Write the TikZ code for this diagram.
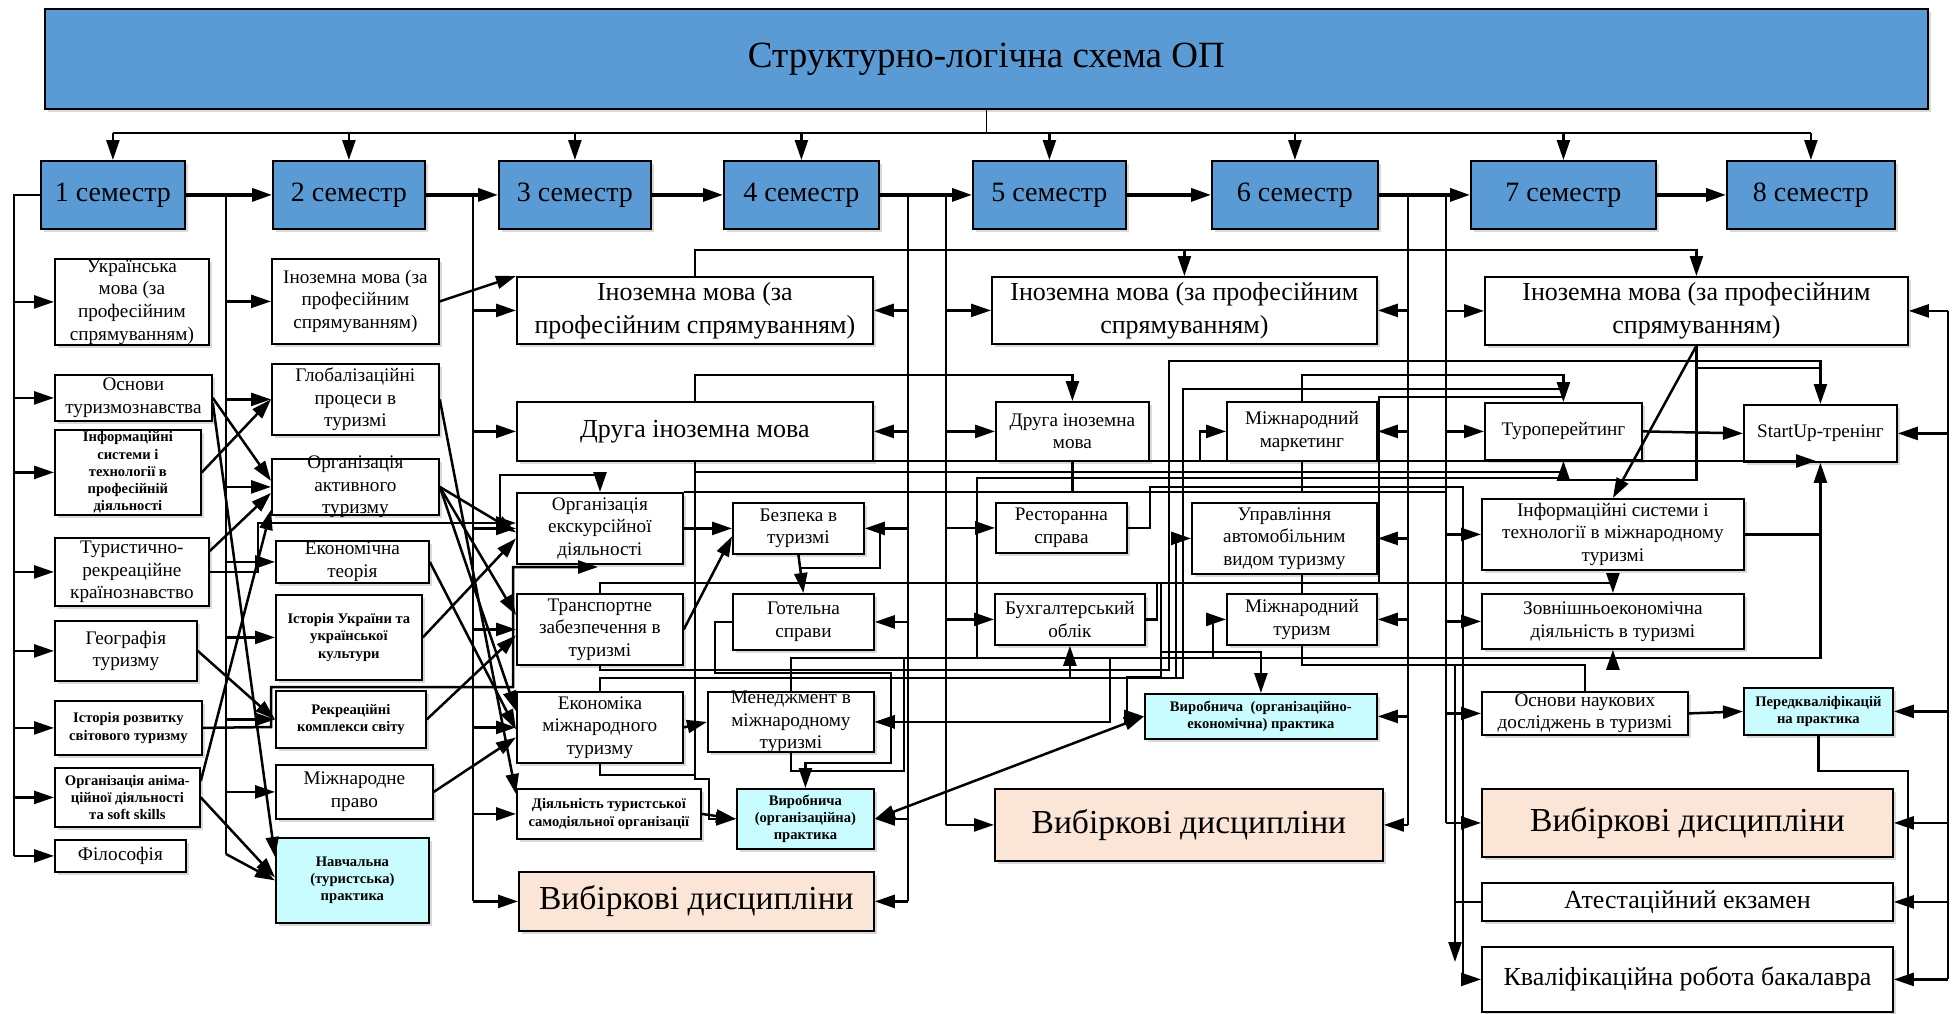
\documentclass[tikz,border=0pt]{standalone}
\usepackage{fontspec}
\setmainfont{Liberation Serif}
\usetikzlibrary{arrows.meta,shadows,calc}
\definecolor{semblue}{RGB}{91,155,213}
\definecolor{pracc}{RGB}{200,252,255}
\definecolor{peach}{RGB}{251,229,214}
\tikzset{
 box/.style={draw, line width=0.9pt, fill=white, inner sep=0pt,
   drop shadow={shadow xshift=1.4pt, shadow yshift=-1.4pt, opacity=0.25, fill=black!60}},
 sem/.style={fill=semblue},
 prac/.style={fill=pracc},
 elec/.style={fill=peach},
 plain/.style={},
 ttitle/.style={font=\fontsize{18.5}{22}\selectfont},
 tsem/.style={font=\fontsize{14}{16}\selectfont},
 tmed/.style={font=\fontsize{9.6}{11.3}\selectfont},
 tbig/.style={font=\fontsize{13}{16.5}\selectfont},
 tsml/.style={font=\fontsize{7.3}{8.6}\selectfont\bfseries},
 tvyb/.style={font=\fontsize{16.8}{20}\selectfont},
 ln/.style={line width=1.25pt},
 arr/.style={ln,-{Triangle[length=10pt,width=6.5pt]}},
 darr/.style={ln,{Triangle[length=10pt,width=6.5pt]}-{Triangle[length=10pt,width=6.5pt]}},
}
\newcommand\mybox[8]{%
 \node[box,#6,minimum width={(#4-#2)*0.5pt},minimum height={(#5-#3)*0.5pt},anchor=north west] (#1) at (#2,#3) {};
 \node[#7,align=center,inner sep=0pt] at (#1.center) {#8};}
\begin{document}
\begin{tikzpicture}[x=0.5pt,y=-0.5pt]
\useasboundingbox (0,0) rectangle (1954,1013);
% header and semesters
\mybox{title}{44}{8}{1927}{108}{sem}{ttitle}{Структурно-логічна схема ОП}
\mybox{s1}{40}{160}{184}{228}{sem}{tsem}{1 семестр}
\mybox{s2}{272}{160}{424}{228}{sem}{tsem}{2 семестр}
\mybox{s3}{498}{160}{650}{228}{sem}{tsem}{3 семестр}
\mybox{s4}{723}{160}{878}{228}{sem}{tsem}{4 семестр}
\mybox{s5}{972}{160}{1125}{228}{sem}{tsem}{5 семестр}
\mybox{s6}{1211}{160}{1377}{228}{sem}{tsem}{6 семестр}
\mybox{s7}{1470}{160}{1655}{228}{sem}{tsem}{7 семестр}
\mybox{s8}{1726}{160}{1894}{228}{sem}{tsem}{8 семестр}
% semester 1
\mybox{ukr}{54}{258}{208}{344}{plain}{tmed}{Українська\\мова (за\\професійним\\спрямуванням)}
\mybox{osn}{54}{374}{211}{420}{plain}{tmed}{Основи\\туризмознавства}
\mybox{inf1}{54}{429}{200}{514}{plain}{tsml}{Інформаційні\\системи і\\технології в\\професійній\\діяльності}
\mybox{tur}{54}{537}{208}{605}{plain}{tmed}{Туристично-\\рекреаційне\\країнознавство}
\mybox{geo}{54}{620}{196}{680}{plain}{tmed}{Географія\\туризму}
\mybox{ist}{54}{700}{201}{754}{plain}{tsml}{Історія розвитку\\світового туризму}
\mybox{anim}{54}{767}{199}{826}{plain}{tsml}{Організація аніма-\\ційної діяльності\\та soft skills}
\mybox{fil}{54}{839}{185}{871}{plain}{tmed}{Філософія}
% semester 2
\mybox{ino2}{271}{258}{438}{343}{plain}{tmed}{Іноземна мова (за\\професійним\\спрямуванням)}
\mybox{glob}{271}{363}{438}{434}{plain}{tmed}{Глобалізаційні\\процеси в\\туризмі}
\mybox{akt}{271}{458}{438}{514}{plain}{tmed}{Організація\\активного\\туризму}
\mybox{eco}{275}{540}{428}{582}{plain}{tmed}{Економічна\\теорія}
\mybox{istu}{275}{594}{421}{679}{plain}{tsml}{Історія України та\\української\\культури}
\mybox{rek}{275}{690}{425}{747}{plain}{tsml}{Рекреаційні\\комплекси світу}
\mybox{pravo}{275}{764}{432}{818}{plain}{tmed}{Міжнародне\\право}
\mybox{nav}{275}{837}{428}{922}{prac}{tsml}{Навчальна\\(туристська)\\практика}
% semester 3-4
\mybox{ino3}{516}{276}{872}{343}{plain}{tbig}{Іноземна мова (за\\професійним спрямуванням)}
\mybox{dr3}{516}{401}{872}{460}{plain}{tbig}{Друга іноземна мова}
\mybox{exc}{516}{492}{682}{563}{plain}{tmed}{Організація\\екскурсійної\\діяльності}
\mybox{bez}{732}{502}{863}{553}{plain}{tmed}{Безпека в\\туризмі}
\mybox{tra}{516}{593}{682}{664}{plain}{tmed}{Транспортне\\забезпечення в\\туризмі}
\mybox{got}{732}{593}{873}{649}{plain}{tmed}{Готельна\\справи}
\mybox{ekm}{516}{691}{682}{762}{plain}{tmed}{Економіка\\міжнародного\\туризму}
\mybox{men}{707}{691}{873}{751}{plain}{tmed}{Менеджмент в\\міжнародному\\туризмі}
\mybox{diy}{516}{788}{700}{838}{plain}{tsml}{Діяльність туристської\\самодіяльної організації}
\mybox{vyr3}{736}{788}{873}{848}{prac}{tsml}{Виробнича\\(організаційна)\\практика}
\mybox{vyb3}{518}{871}{873}{930}{elec}{tvyb}{Вибіркові дисципліни}
% semester 5-6
\mybox{ino5}{991}{276}{1376}{343}{plain}{tbig}{Іноземна мова (за професійним\\спрямуванням)}
\mybox{dr5}{995}{401}{1148}{460}{plain}{tmed}{Друга іноземна\\мова}
\mybox{mm}{1226}{401}{1376}{460}{plain}{tmed}{Міжнародний\\маркетинг}
\mybox{rest}{995}{502}{1126}{552}{plain}{tmed}{Ресторанна\\справа}
\mybox{upr}{1191}{502}{1376}{573}{plain}{tmed}{Управління\\автомобільним\\видом туризму}
\mybox{buh}{994}{593}{1144}{644}{plain}{tmed}{Бухгалтерський\\облік}
\mybox{mt}{1226}{593}{1376}{644}{plain}{tmed}{Міжнародний\\туризм}
\mybox{vyr5}{1144}{693}{1376}{738}{prac}{tsml}{Виробнича~~(організаційно-\\економічна) практика}
\mybox{vyb5}{994}{788}{1382}{860}{elec}{tvyb}{Вибіркові дисципліни}
% semester 7-8
\mybox{ino7}{1484}{276}{1907}{344}{plain}{tbig}{Іноземна мова (за професійним\\спрямуванням)}
\mybox{tour}{1484}{402}{1641}{459}{plain}{tmed}{Туроперейтинг}
\mybox{start}{1743}{404}{1896}{461}{plain}{tmed}{StartUp-тренінг}
\mybox{inf7}{1481}{498}{1743}{569}{plain}{tmed}{Інформаційні системи і\\технології в міжнародному\\туризмі}
\mybox{zov}{1481}{593}{1743}{648}{plain}{tmed}{Зовнішньоекономічна\\діяльність в туризмі}
\mybox{nauk}{1481}{691}{1687}{734}{plain}{tmed}{Основи наукових\\досліджень в туризмі}
\mybox{pered}{1743}{687}{1892}{734}{prac}{tsml}{Передкваліфікацій\\на практика}
\mybox{vyb7}{1481}{788}{1892}{856}{elec}{tvyb}{Вибіркові дисципліни}
\mybox{att}{1481}{882}{1892}{920}{plain}{tbig}{Атестаційний екзамен}
\mybox{kval}{1481}{946}{1892}{1011}{plain}{tbig}{Кваліфікаційна робота бакалавра}

% ---------- header connectors
\draw[ln,line width=0.8pt] (title.south) -- (title.south |- 0,133);
\draw[ln] (s1.north |- 0,133) -- (s8.north |- 0,133);
\foreach \s in {s1,s2,s3,s4,s5,s6,s7,s8} \draw[arr] (\s.north |- 0,133) -- (\s.north);
\foreach \a/\b in {s1/s2,s2/s3,s3/s4,s4/s5,s5/s6,s6/s7,s7/s8} \draw[arr,line width=1.7pt] (\a.east) -- (\b.west);

% ---------- buses
\draw[ln] (s1.west) -- (14,0 |- s1.west) -- (14,0 |- fil.west);
\foreach \n in {ukr,osn,inf1,tur,geo,ist,anim,fil} \draw[arr] (14,0 |- \n.west) -- (\n.west);
\draw[ln] (226,0 |- s1.east) -- (226,854);
\draw[arr] (226,854) -- (nav.west);
\foreach \n in {ino2,glob,akt,eco,istu,rek,pravo} \draw[arr] (226,0 |- \n.west) -- (\n.west);
\draw[ln] (473,0 |- s2.east) -- (473,0 |- vyb3.west);
\foreach \n in {ino3,dr3,exc,tra,ekm,diy,vyb3} \draw[arr] (473,0 |- \n.west) -- (\n.west);
\draw[ln] (908,0 |- s4.east) -- (908,0 |- vyb3.east);
\foreach \n in {ino3,dr3,bez,got,men,vyr3,vyb3} \draw[arr] (908,0 |- \n.east) -- (\n.east);
\draw[ln] (946,0 |- s4.east) -- (946,0 |- vyb5.west);
\foreach \n in {ino5,dr5,rest,buh,vyb5} \draw[arr] (946,0 |- \n.west) -- (\n.west);
\draw[ln] (1408,0 |- s6.east) -- (1408,0 |- vyb5.east);
\foreach \n in {ino5,mm,upr,mt,vyr5,vyb5} \draw[arr] (1408,0 |- \n.east) -- (\n.east);
\draw[ln] (1446,0 |- s6.east) -- (1446,0 |- vyb7.west);
\foreach \n in {ino7,tour,inf7,zov,nauk,vyb7} \draw[arr] (1446,0 |- \n.west) -- (\n.west);
\draw[ln] (1948,0 |- ino7.east) -- (1948,0 |- kval.east);
\foreach \n in {ino7,start,pered,vyb7,att,kval} \draw[arr] (1948,0 |- \n.east) -- (\n.east);
\draw[ln] (pered.south) |- (1908,771) -- (1908,0 |- kval.east);

% ---------- semester 1 -> 2
\draw[arr] (osn.east) -- ($(akt.west)+(0,-6)$);
\draw[arr] ($(osn.east)+(0,5)$) -- ($(nav.north west)+(0,20)$);
\draw[arr] (inf1.east) -- (glob.west);
\draw[arr] ($(tur.north east)+(0,14)$) -- ($(akt.west)+(0,6)$);
\draw[arr] (tur.east) -| (258,523) -- (exc.west |- 0,523);
\draw[arr] (500,523) |- (600,475) -- (exc.north -| 600,0);
\draw[arr] ($(anim.north east)+(0,14)$) -- ($(akt.south west)+(0,-6)$);
\draw[arr] (anim.east) -- ($(nav.west)+(0,-3)$);
\draw[arr] (geo.east) -- (rek.west);
\draw[arr] (ist.east) -- (271,727) -- (271,687) -- (513,687) -- (513,567) -- (598,567);

% ---------- semester 2 -> 3
\draw[arr] (ino2.east) -- (ino3.north west);
\draw[arr] (glob.east) -- ($(diy.north west)+(0,6)$);
\draw[arr] (akt.east) -- ($(exc.west)+(0,4)$);
\draw[arr] (akt.east) -- ($(tra.north west)+(0,22)$);
\draw[arr] (akt.east) -- ($(ekm.north west)+(0,20)$);
\draw[arr] (eco.east) -- ($(ekm.west)+(0,2)$);
\draw[arr] (istu.east) -- ($(exc.west)+(0,10)$);
\draw[arr] (rek.east) -- ($(tra.west)+(0,6)$);
\draw[arr] (pravo.east) -- ($(ekm.west)+(0,10)$);

% ---------- semester 3-4 internal
\draw[arr] (exc.east) -- (bez.west);
\draw[arr] (tra.east) -- ($(bez.west)+(0,8)$);
\draw[arr] (ekm.east) -- (men.west);
\draw[arr] (diy.east) -- (vyr3.west);
\draw[arr] (bez.south) -- (got.north);
\draw[ln] (880,527.5) |- (800,568);
\draw[arr] (dr3.south -| 695,0) -- (695,779) -| (709,0 |- vyr3.west) -- (vyr3.west);
\draw[ln] (ekm.south) |- (695,775);
\draw[arr] (got.west) -| (715,673) -| (891,763) -| (vyr3.north);
\draw[ln] (men.south) |- (904,771) -- (904,658);

% ---------- long tracks
\draw[arr] (ino3.north) |- (ino7.north |- 0,250) -- (ino7.north);
\draw[arr] (ino5.north |- 0,250) -- (ino5.north);
\draw[arr] (dr3.north) |- (dr5.north |- 0,375) -- (dr5.north);
\draw[arr] (695,461) -- (1816,461);
\draw[arr] (695,472) -| (tour.south);
\draw[arr] (men.north) |- (start.south |- 0,658) -- (start.south);
\draw[ln] (inf7.east) -- (start.south |- inf7.east);
\draw[ln] (977,658) |- (tour.south |- 0,478);
\draw[arr] (1110,658) |- (men.east);
\draw[ln] (mt.south) |- (nauk.north |- 0,665) -- (nauk.north);
\draw[arr] (zov.south |- 0,665) -- (zov.south);
\draw[arr] (tra.north) |- (zov.north |- 0,583) -- (zov.north);
\draw[arr] (1200,461) |- (mm.west);
\draw[arr] (tra.south) |- (1169,670) |- (start.north |- 0,361) -- (start.north);
\draw[ln] (ino7.south) |- (tour.south |- 0,480);
\draw[ln] (ino7.south |- 0,368) -- (start.north |- 0,368);
\draw[arr] (ino7.south) -- (inf7.north);
\draw[arr] (ekm.north) |- (buh.south |- 0,678) -- (buh.south);
\draw[ln] (buh.south |- 0,678) -- (1183,678) |- (tour.north |- 0,389);
\draw[arr] (mm.north) |- (tour.north |- 0,375) -- (tour.north);
\draw[ln] (1379,583) |- (tour.north |- 0,397);
\draw[ln] (exc.north east) -- (1446,492);
\draw[ln] (dr5.south) -- (dr5.south |- 0,492);
\draw[ln] (mm.south) -- (mm.south |- 0,492);
\draw[arr] (1455,665) -- (1455,962);
\draw[ln] (att.west) -- (1455,0 |- att.west);
\draw[arr] (rest.east) -| (1150,487) -- (1463,487) |- (kval.west);
\draw[arr] (1176,678) |- (upr.west);
\draw[arr] (1213,658) |- (mt.west);
\draw[arr] (1161,583) |- (vyr5.north |- 0,652) -- (vyr5.north);
\draw[arr] (1161,652) |- (1127,677) |- (vyr5.west);
\draw[darr] (vyr3.east) -- (vyr5.west);
\draw[ln] (buh.east) -| (1157,583);
\draw[ln] (upr.south -| mt.north) -- (mt.north);
\draw[arr] (tour.east) -- (start.west);
\draw[arr] (nauk.east) -- (pered.west);
\end{tikzpicture}
\end{document}
